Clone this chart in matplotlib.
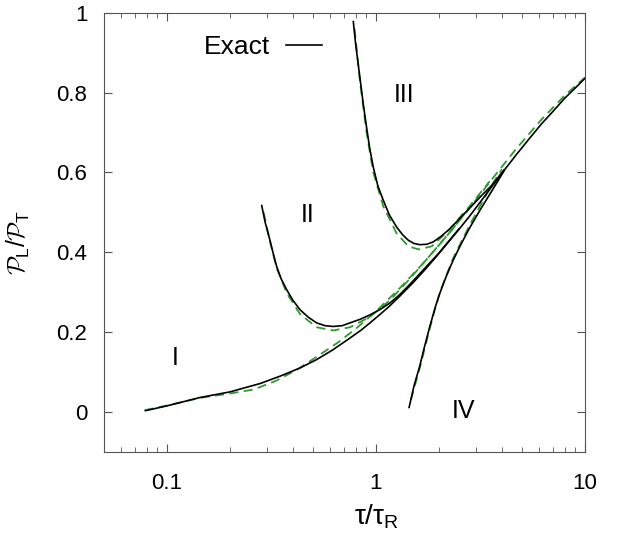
import numpy as np
import matplotlib
matplotlib.use("Agg")
import matplotlib.pyplot as plt
from matplotlib.ticker import LogLocator, NullFormatter, FixedLocator

plt.rcParams['font.family'] = ['Liberation Sans', 'DejaVu Sans']
plt.rcParams['mathtext.fontset'] = 'custom'
plt.rcParams['mathtext.rm'] = 'Liberation Sans'
plt.rcParams['mathtext.it'] = 'Liberation Sans'
plt.rcParams['mathtext.cal'] = 'cmsy10'

# exact solutions, tau/tau_R vs P_L/P_T
exact_I_x = [0.079, 0.1, 0.144, 0.2, 0.279, 0.35, 0.433, 0.52, 0.62, 0.751, 0.85, 0.936, 1.05, 1.15, 1.3, 1.5, 1.7, 1.95, 2.2, 2.5, 2.8, 3.2, 3.6, 4.1, 4.7, 5.4, 6.2, 7.0, 8.0, 9.0, 10.0]
exact_I_y = [0.003, 0.015, 0.036, 0.050, 0.071, 0.090, 0.110, 0.131, 0.155, 0.185, 0.205, 0.223, 0.245, 0.263, 0.290, 0.323, 0.354, 0.390, 0.423, 0.458, 0.490, 0.530, 0.566, 0.605, 0.645, 0.684, 0.722, 0.752, 0.786, 0.812, 0.836]

exact_II_x = [0.284, 0.295, 0.311, 0.322, 0.335, 0.352, 0.374, 0.40, 0.433, 0.475, 0.52, 0.57, 0.625, 0.69, 0.751, 0.84, 0.936, 1.05, 1.167, 1.3, 1.455, 1.7, 2.0, 2.5]
exact_II_y = [0.517, 0.475, 0.430, 0.398, 0.364, 0.333, 0.306, 0.280, 0.256, 0.237, 0.223, 0.216, 0.214, 0.216, 0.223, 0.232, 0.243, 0.257, 0.273, 0.294, 0.320, 0.358, 0.398, 0.459]

exact_III_x = [0.779, 0.80, 0.838, 0.87, 0.902, 0.935, 0.971, 1.02, 1.084, 1.16, 1.256, 1.34, 1.428, 1.52, 1.62, 1.75, 1.88, 2.05, 2.26, 2.55, 2.92, 3.2, 3.6, 4.1]
exact_III_y = [0.978, 0.92, 0.837, 0.77, 0.712, 0.658, 0.613, 0.567, 0.530, 0.493, 0.463, 0.444, 0.430, 0.422, 0.419, 0.420, 0.426, 0.440, 0.459, 0.488, 0.520, 0.542, 0.569, 0.606]

exact_IV_x = [1.44, 1.52, 1.62, 1.71, 1.81, 1.91, 2.02, 2.17, 2.34, 2.55, 2.82, 3.15, 3.51, 4.1]
exact_IV_y = [0.011, 0.065, 0.115, 0.165, 0.214, 0.258, 0.297, 0.340, 0.380, 0.420, 0.463, 0.506, 0.546, 0.604]

# approximate solutions (green dashed)
approx_I_x = [0.078, 0.1, 0.144, 0.2, 0.26, 0.33, 0.42, 0.52, 0.65, 0.8, 1.0, 1.3, 1.7, 2.2, 2.8, 3.6, 4.7, 6.2, 8.0, 10.0]
approx_I_y = [0.004, 0.016, 0.035, 0.046, 0.056, 0.077, 0.106, 0.138, 0.172, 0.208, 0.252, 0.310, 0.375, 0.443, 0.510, 0.584, 0.660, 0.733, 0.793, 0.838]

approx_II_x = [0.29, 0.31, 0.335, 0.374, 0.433, 0.52, 0.625, 0.751, 0.936, 1.167, 1.455, 1.8, 2.3, 2.8]
approx_II_y = [0.500, 0.430, 0.360, 0.298, 0.245, 0.212, 0.204, 0.212, 0.238, 0.280, 0.334, 0.390, 0.455, 0.512]

approx_III_x = [0.79, 0.838, 0.902, 0.971, 1.084, 1.256, 1.428, 1.6, 1.85, 2.2, 2.8, 3.5]
approx_III_y = [0.960, 0.828, 0.700, 0.600, 0.515, 0.447, 0.415, 0.407, 0.415, 0.452, 0.515, 0.578]

approx_IV_x = [1.47, 1.62, 1.81, 2.02, 2.34, 2.82, 3.5, 4.0]
approx_IV_y = [0.030, 0.110, 0.210, 0.300, 0.385, 0.470, 0.560, 0.608]

region_labels = ['I', 'II', 'III', 'IV']
region_x = [0.109, 0.473, 1.36, 2.61]
region_y = [0.136, 0.494, 0.794, 0.002]

fig = plt.figure(figsize=(6.23, 5.34), dpi=100)
ax = fig.add_axes([0.167, 0.154, 0.772, 0.822])

green = '#2e9a2e'
dash = (5, 3)
for xs, ys in [(approx_I_x, approx_I_y), (approx_II_x, approx_II_y),
               (approx_III_x, approx_III_y), (approx_IV_x, approx_IV_y)]:
    ax.plot(xs, ys, color=green, lw=1.3, dashes=dash)

ax.plot(exact_I_x, exact_I_y, color='black', lw=1.2, label='Exact')
ax.plot(exact_II_x, exact_II_y, color='black', lw=1.2)
ax.plot(exact_III_x, exact_III_y, color='black', lw=1.2)
ax.plot(exact_IV_x, exact_IV_y, color='black', lw=1.2)

for lab, lx, ly in zip(region_labels, region_x, region_y):
    ax.text(lx, ly, lab, fontsize=18, ha='center', va='center')

ax.set_xscale('log')
ax.set_xlim(0.05, 10)
ax.set_ylim(-0.1, 1)
ax.xaxis.set_major_locator(FixedLocator([0.1, 1, 10]))
ax.set_xticklabels(['0.1', '1', '10'])
ax.xaxis.set_minor_locator(LogLocator(base=10, subs=np.arange(2, 10)))
ax.xaxis.set_minor_formatter(NullFormatter())
ax.set_yticks([0, 0.2, 0.4, 0.6, 0.8, 1])
ax.set_yticklabels(['0', '0.2', '0.4', '0.6', '0.8', '1'])

ax.tick_params(which='both', direction='in', top=True, right=True, labelsize=16, color='#555555')
ax.tick_params(axis='x', pad=15)
ax.tick_params(axis='y', pad=12)
ax.tick_params(which='major', length=6)
ax.tick_params(which='minor', length=3.5)
for s in ax.spines.values():
    s.set_color('#555555')

ax.set_xlabel(r'$\tau/\tau_{\rm R}$', fontsize=20)
ax.set_ylabel(r'$\mathcal{P}_{\rm L}/\mathcal{P}_{\rm T}$', fontsize=18)
ax.xaxis.set_label_coords(0.567, -0.115)
ax.yaxis.set_label_coords(-0.15, 0.476)

ax.legend(loc='center left', bbox_to_anchor=(0.208, 0.922), frameon=False, markerfirst=False,
          fontsize=19, handlelength=1.35, borderaxespad=0, borderpad=0, handletextpad=0.6)

fig.savefig('out.png', dpi=100)
